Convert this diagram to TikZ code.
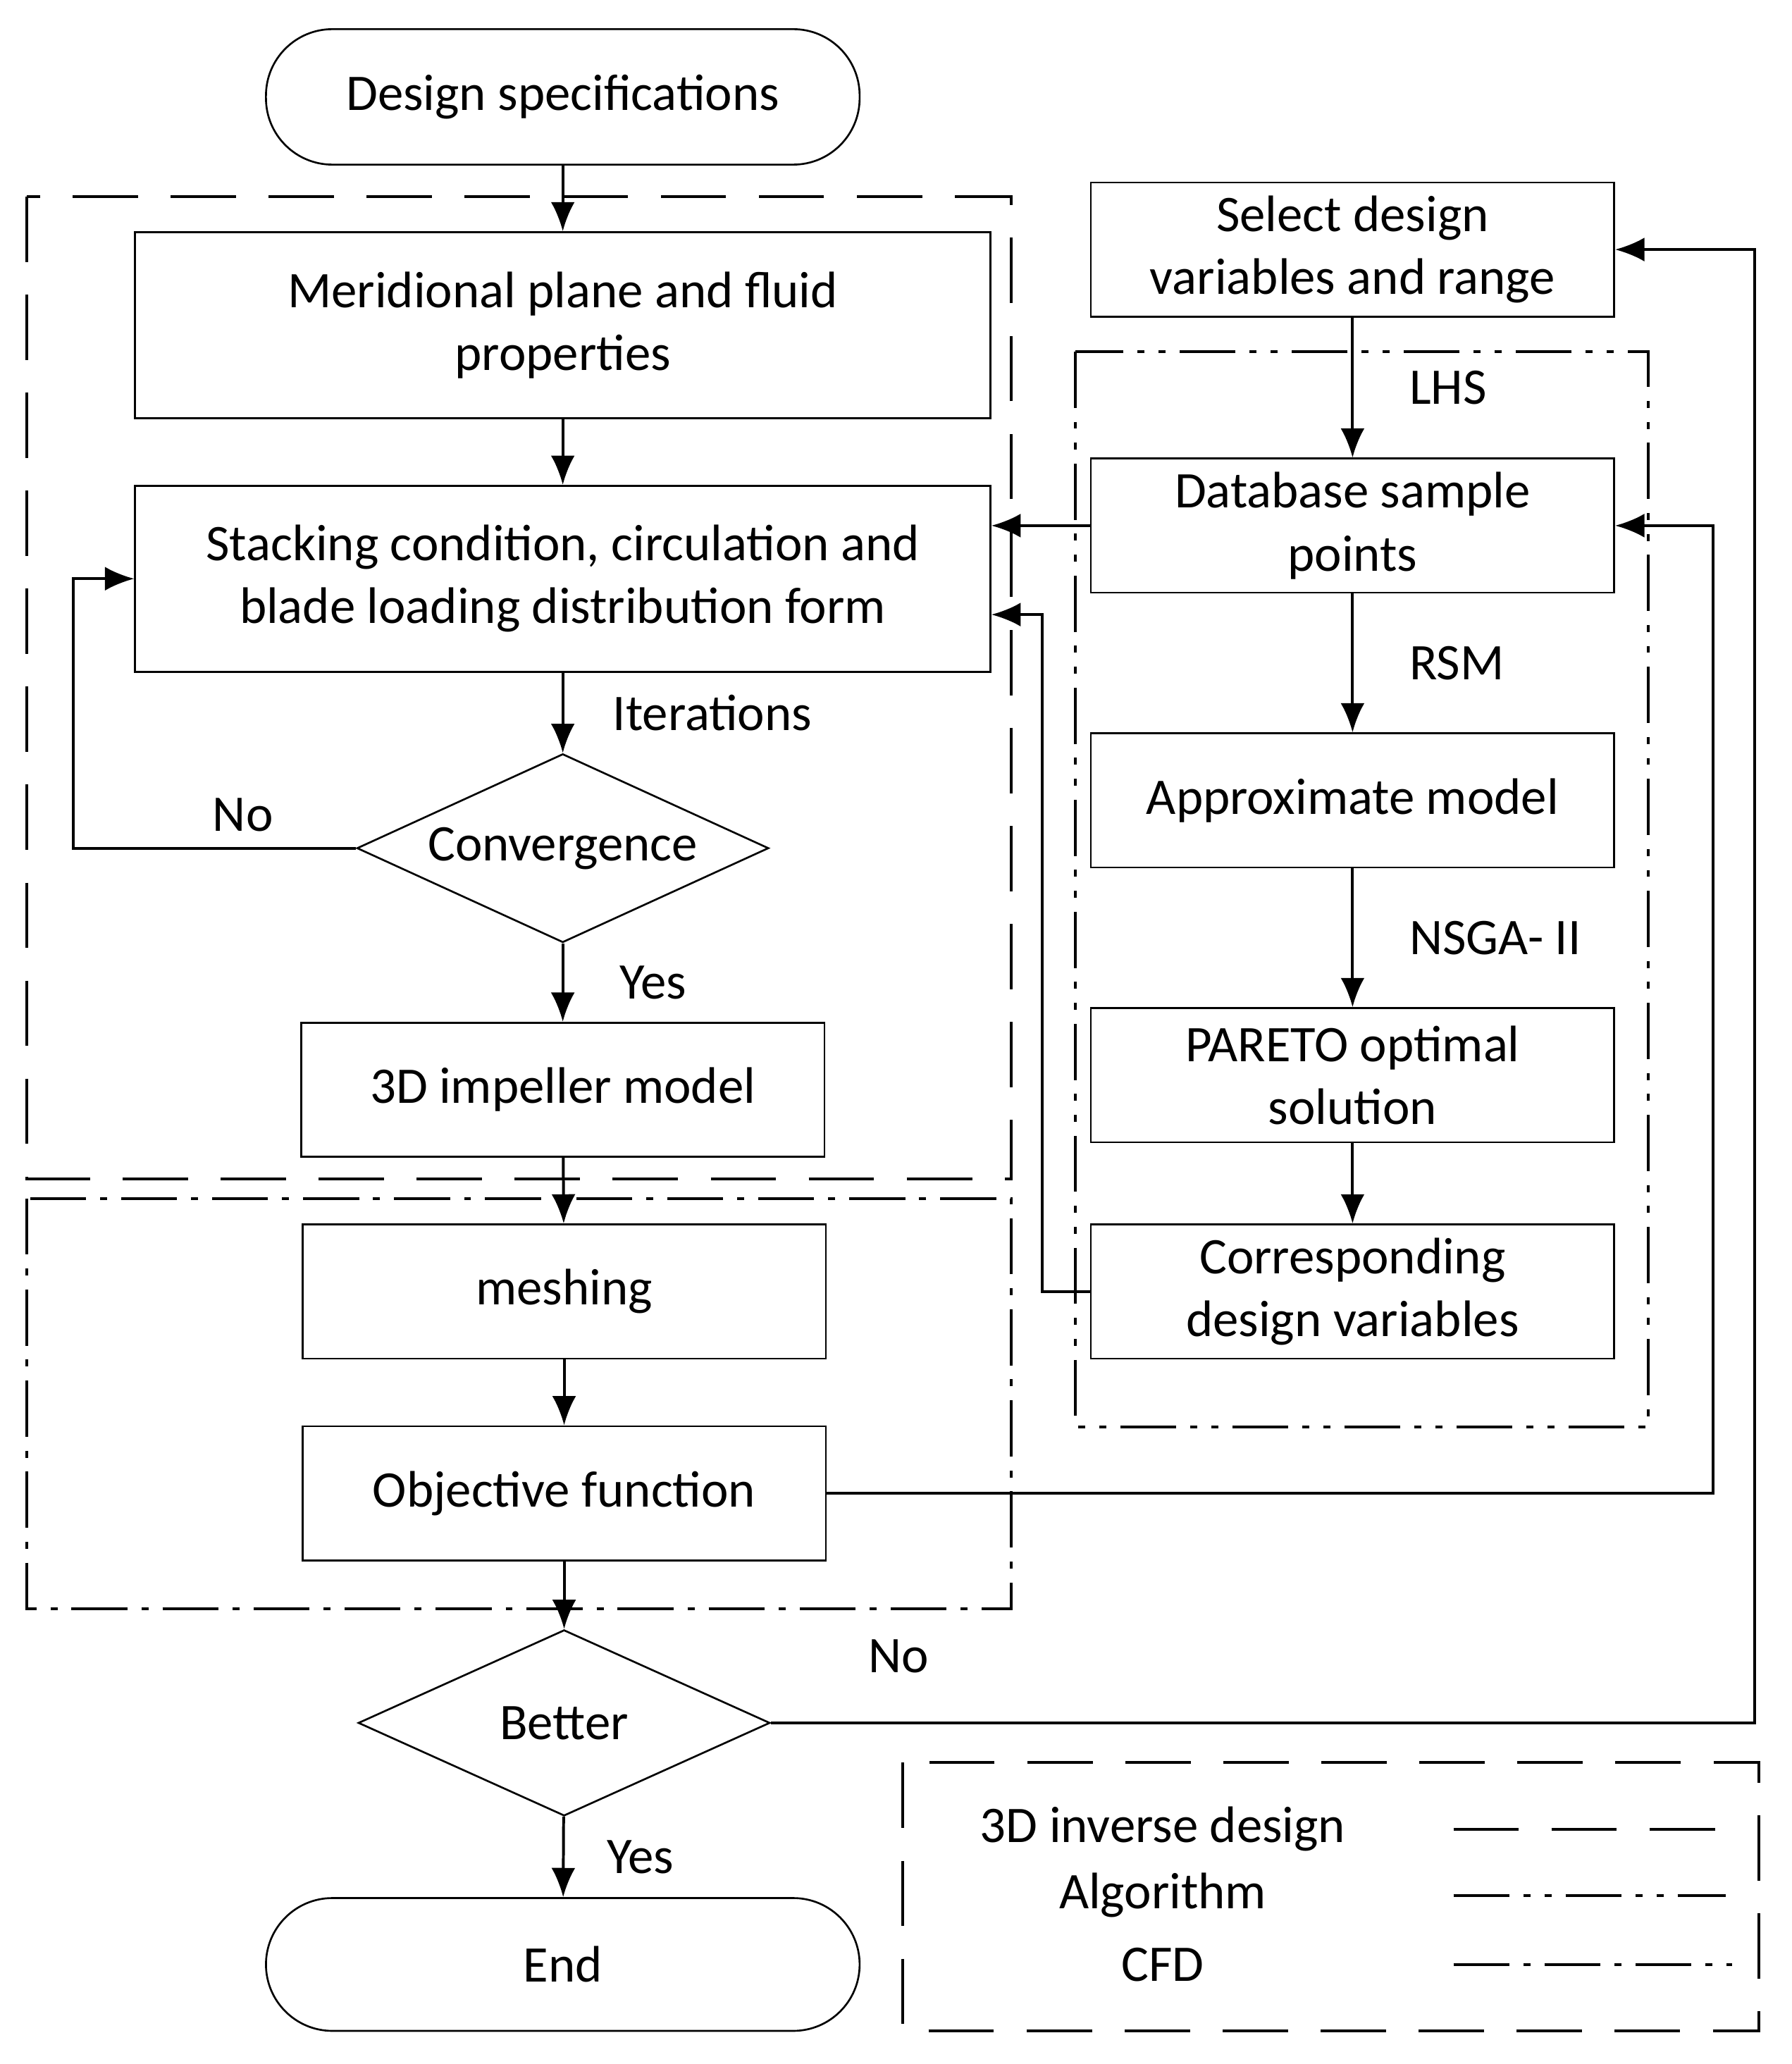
\documentclass[tikz,border=0pt]{standalone}
\usepackage{fontspec}
\setmainfont{Carlito}
\usetikzlibrary{shapes.geometric, arrows.meta, positioning}
\tikzstyle{startstop} = [
  rectangle,
  rounded corners=0.5cm,
  minimum width=4.47cm,
  minimum height=1.02cm,
  text centered,
  draw=black,
  inner sep=0
]
\tikzstyle{process} = [
  rectangle,
  minimum width=3.94cm,
  minimum height=1.01cm,
  align=center,
  inner sep=0,
  draw=black
]
\tikzstyle{decision} = [
  diamond,
  minimum width=3.1cm,
  minimum height=1.42cm,
  aspect=2.2,
  text centered,
  draw=black,
  inner sep=0
]
\tikzstyle{arrow} = [
  semithick,
  -{Latex[length=2.2mm,width=1.8mm]}
]
\tikzstyle{longdash} = [semithick, dash pattern=on 14pt off 7pt]
\tikzstyle{dashdot} = [semithick, dash pattern=on 12pt off 3pt on 1.5pt off 3pt]
\tikzstyle{dashdotdot} = [semithick, dash pattern=on 12pt off 3pt on 1.5pt off 3pt on 1.5pt off 3pt]

\begin{document}
\begin{tikzpicture}[font=\fontsize{11}{13.5}\selectfont, x=0.01cm, y=-0.01cm]
      \useasboundingbox (0,0) rectangle (1350,1555);
      % left column
      \node [startstop] (start) at (424,73) {Design specifications};
      \node [process, minimum width=6.44cm, minimum height=1.4cm] (meridional) at (424,245) {Meridional plane and fluid\\properties};
      \node [process, minimum width=6.44cm, minimum height=1.4cm] (stacking) at (424,436) {Stacking condition, circulation and\\blade loading distribution form};
      \node [decision] (convergence) at (424,639) {Convergence};
      \node [process] (impeller) at (424,821) {3D impeller model};
      \node [process] (meshing) at (425,973) {meshing};
      \node [process] (objective) at (425,1125) {Objective function};
      \node [decision, minimum height=1.4cm] (better) at (425,1298) {Better};
      \node [startstop, minimum height=1cm] (end) at (424,1480) {End};
      % right column
      \node [process] (select) at (1019,188) {Select design\\variables and range};
      \node [process] (database) at (1019,396) {Database sample\\points};
      \node [process] (approx) at (1019,603) {Approximate model};
      \node [process] (pareto) at (1019,810) {PARETO optimal\\solution};
      \node [process] (corresponding) at (1019,973) {Corresponding\\design variables};
      % frames
      \draw [longdash] (20,148) rectangle (762,888);
      \draw [dashdot] (20,903) rectangle (762,1212);
      \draw [dashdotdot] (810,265) rectangle (1242,1075);
      \draw [longdash] (680,1328) rectangle (1325,1530);
      % legend
      \node (lg inverse) at (876,1378) {3D inverse design};
      \node (lg algorithm) at (876,1428) {Algorithm};
      \node (lg cfd) at (876,1480) {CFD};
      \draw [longdash] (1095,1378) -- (1310,1378);
      \draw [dashdotdot] (1095,1428) -- (1300,1428);
      \draw [dashdot] (1095,1480) -- (1305,1480);

      \draw [arrow] (start) -- (meridional);
      \draw [arrow] (meridional) -- (stacking);
      \draw [arrow] (stacking) -- node [right, xshift=0.25cm] {Iterations} (convergence);
      \draw [arrow] (convergence.west) -- node [above, pos=0.4] {No} ++(-213,0) |- (stacking.west);
      \draw [arrow] (convergence) -- node [right, xshift=0.3cm] {Yes} (impeller);
      \draw [arrow] (impeller) -- (meshing);
      \draw [arrow] (meshing) -- (objective);
      \draw [arrow] (objective) -- (better);
      \draw [arrow] (better) -- node [right, xshift=0.2cm] {Yes} (end);
      \draw [arrow] (better.east) -- node [above, pos=0.13, yshift=0.25cm] {No} ++(741,0) |- (select.east);
      \draw [arrow] (select) -- node [right, xshift=0.3cm] {LHS} (database);
      \draw [arrow] (database) -- node [right, xshift=0.3cm] {RSM} (approx);
      \draw [arrow] (approx) -- node [right, xshift=0.3cm] {NSGA- II} (pareto);
      \draw [arrow] (pareto) -- (corresponding);
      \draw [arrow] (database.west) -- (stacking.east |- database.west);
      \draw [arrow] (corresponding.west) -- ++(-36,0) |- ([yshift=-0.27cm]stacking.east);
      \draw [arrow] (objective.east) -- ++(668,0) |- (database.east);
\end{tikzpicture}
\end{document}
